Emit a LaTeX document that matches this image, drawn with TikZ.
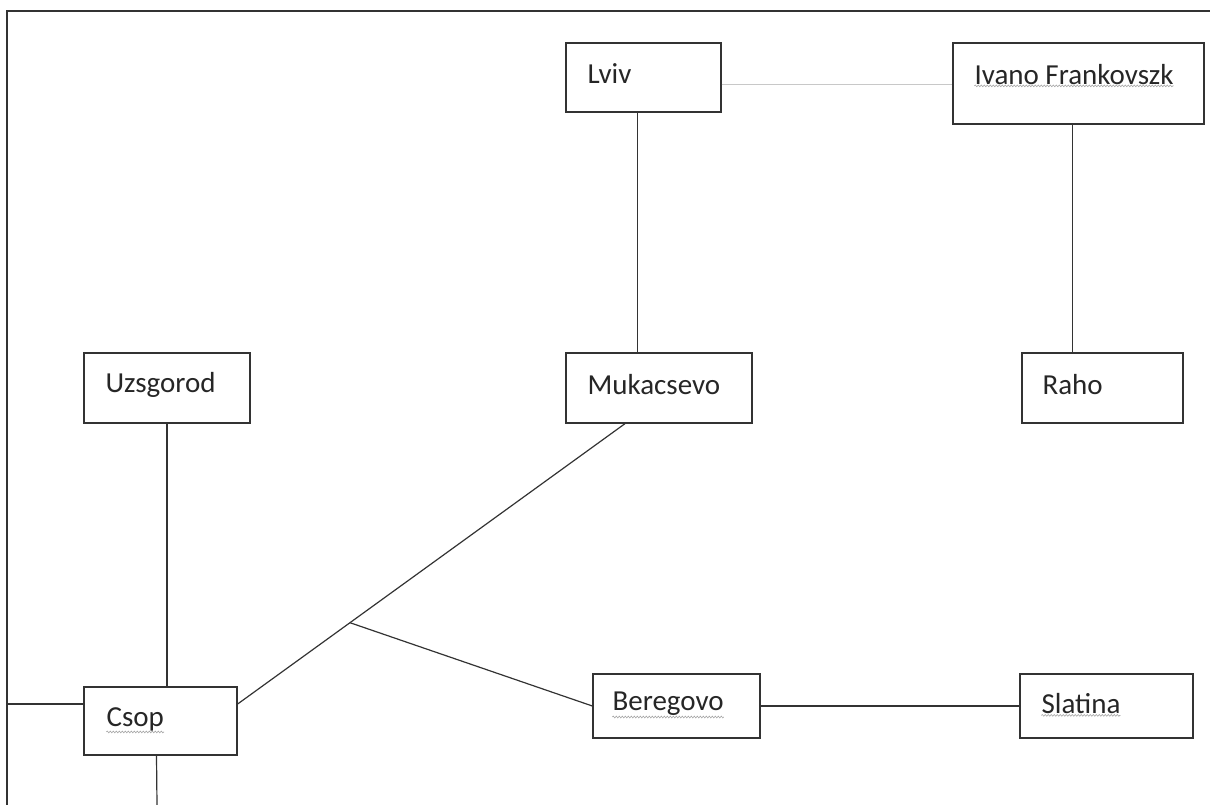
\documentclass[tikz,border=0pt]{standalone}
\usepackage{fontspec}
\setmainfont{Carlito}
\usetikzlibrary{positioning,decorations.pathmorphing}

\definecolor{inkgray}{HTML}{333333}
\definecolor{faintgray}{HTML}{C8C8C8}

\tikzset{%
  town/.style={
    rectangle,
    draw=inkgray,
    line width=1.3pt,
    inner sep=0pt
  },
  town name/.style={
    inner sep=0pt,
    font=\fontsize{29}{30}\selectfont,
    text=black!85
  },
  link/.style={
    draw=black!80,
    line width=1.2pt
  },
  squiggle/.style={
    draw=black!35,
    line width=0.6pt,
    decorate,
    decoration={snake,segment length=3pt,amplitude=0.9pt}
  },
}

\begin{document}
\begin{tikzpicture}[x=1pt,y=-1pt]
\useasboundingbox (0,0) rectangle (1210,805);
% page frame (cut off on the right and at the bottom)
\draw[inkgray, line width=1.3pt] (7,805) -- (7,11) -- (1210,11);

% towns
\node[town, minimum width=155pt, minimum height=69pt] (lviv) at (643.5,77.5) {};
\node[town, minimum width=251pt, minimum height=81pt] (ivano) at (1078.5,83.5) {};
\node[town, minimum width=166pt, minimum height=70pt] (uzs) at (167,388) {};
\node[town, minimum width=186pt, minimum height=70pt] (muk) at (659,388) {};
\node[town, minimum width=161pt, minimum height=70pt] (raho) at (1102.5,388) {};
\node[town, minimum width=153pt, minimum height=68pt] (csop) at (160.5,721) {};
\node[town, minimum width=167pt, minimum height=64pt] (bereg) at (676.5,706) {};
\node[town, minimum width=173pt, minimum height=64pt] (slat) at (1106.5,706) {};

\node[town name, anchor=west, right=22pt of lviv.west, yshift=4pt] (lviv name) {Lviv};
\node[town name, anchor=west, right=22pt of ivano.west, yshift=9pt] (ivano name) {Ivano Frankovszk};
\node[town name, anchor=west, right=22pt of uzs.west, yshift=3pt] (uzs name) {Uzsgorod};
\node[town name, anchor=west, right=22pt of muk.west, yshift=3pt] (muk name) {Mukacsevo};
\node[town name, anchor=west, right=21pt of raho.west, yshift=3pt] (raho name) {Raho};
\node[town name, anchor=west, right=23pt of csop.west, yshift=2pt] (csop name) {Csop};
\node[town name, anchor=west, right=20pt of bereg.west, yshift=2pt] (bereg name) {Beregovo};
\node[town name, anchor=west, right=22pt of slat.west, yshift=2pt] (slat name) {Slatina};

% spell check marks
\foreach \n in {ivano name,csop name,bereg name,slat name}
  \draw[squiggle] ([yshift=-1pt]\n.south west) -- ([yshift=-1pt]\n.south east);

% free ends of the lines
\coordinate (west exit) at (7,704);
\coordinate (south exit) at (157,805);

% connections
\draw[faintgray, line width=1.2pt] ([yshift=-7pt]lviv.east) -- ([yshift=-7pt]lviv.east -| ivano.west);
\draw[link] ([xshift=-6pt]lviv.south) -- ([xshift=-6pt]lviv.south |- muk.north);
\draw[link] ([xshift=-6pt]ivano.south) -- ([xshift=-6pt]ivano.south |- raho.north);
\draw[link] (uzs.south) -- (uzs.south |- csop.north);
\draw[link] ([yshift=17pt]csop.west) -- (west exit);
\draw[link] ([xshift=-4pt]csop.south) -- (south exit);
\draw[link] ([yshift=17pt]csop.east) -- coordinate[pos=.29] (fork) ([xshift=-34pt]muk.south);
\draw[link] (fork) -- (bereg.west);
\draw[link] (bereg.east) -- (slat.west);
\end{tikzpicture}
\end{document}
